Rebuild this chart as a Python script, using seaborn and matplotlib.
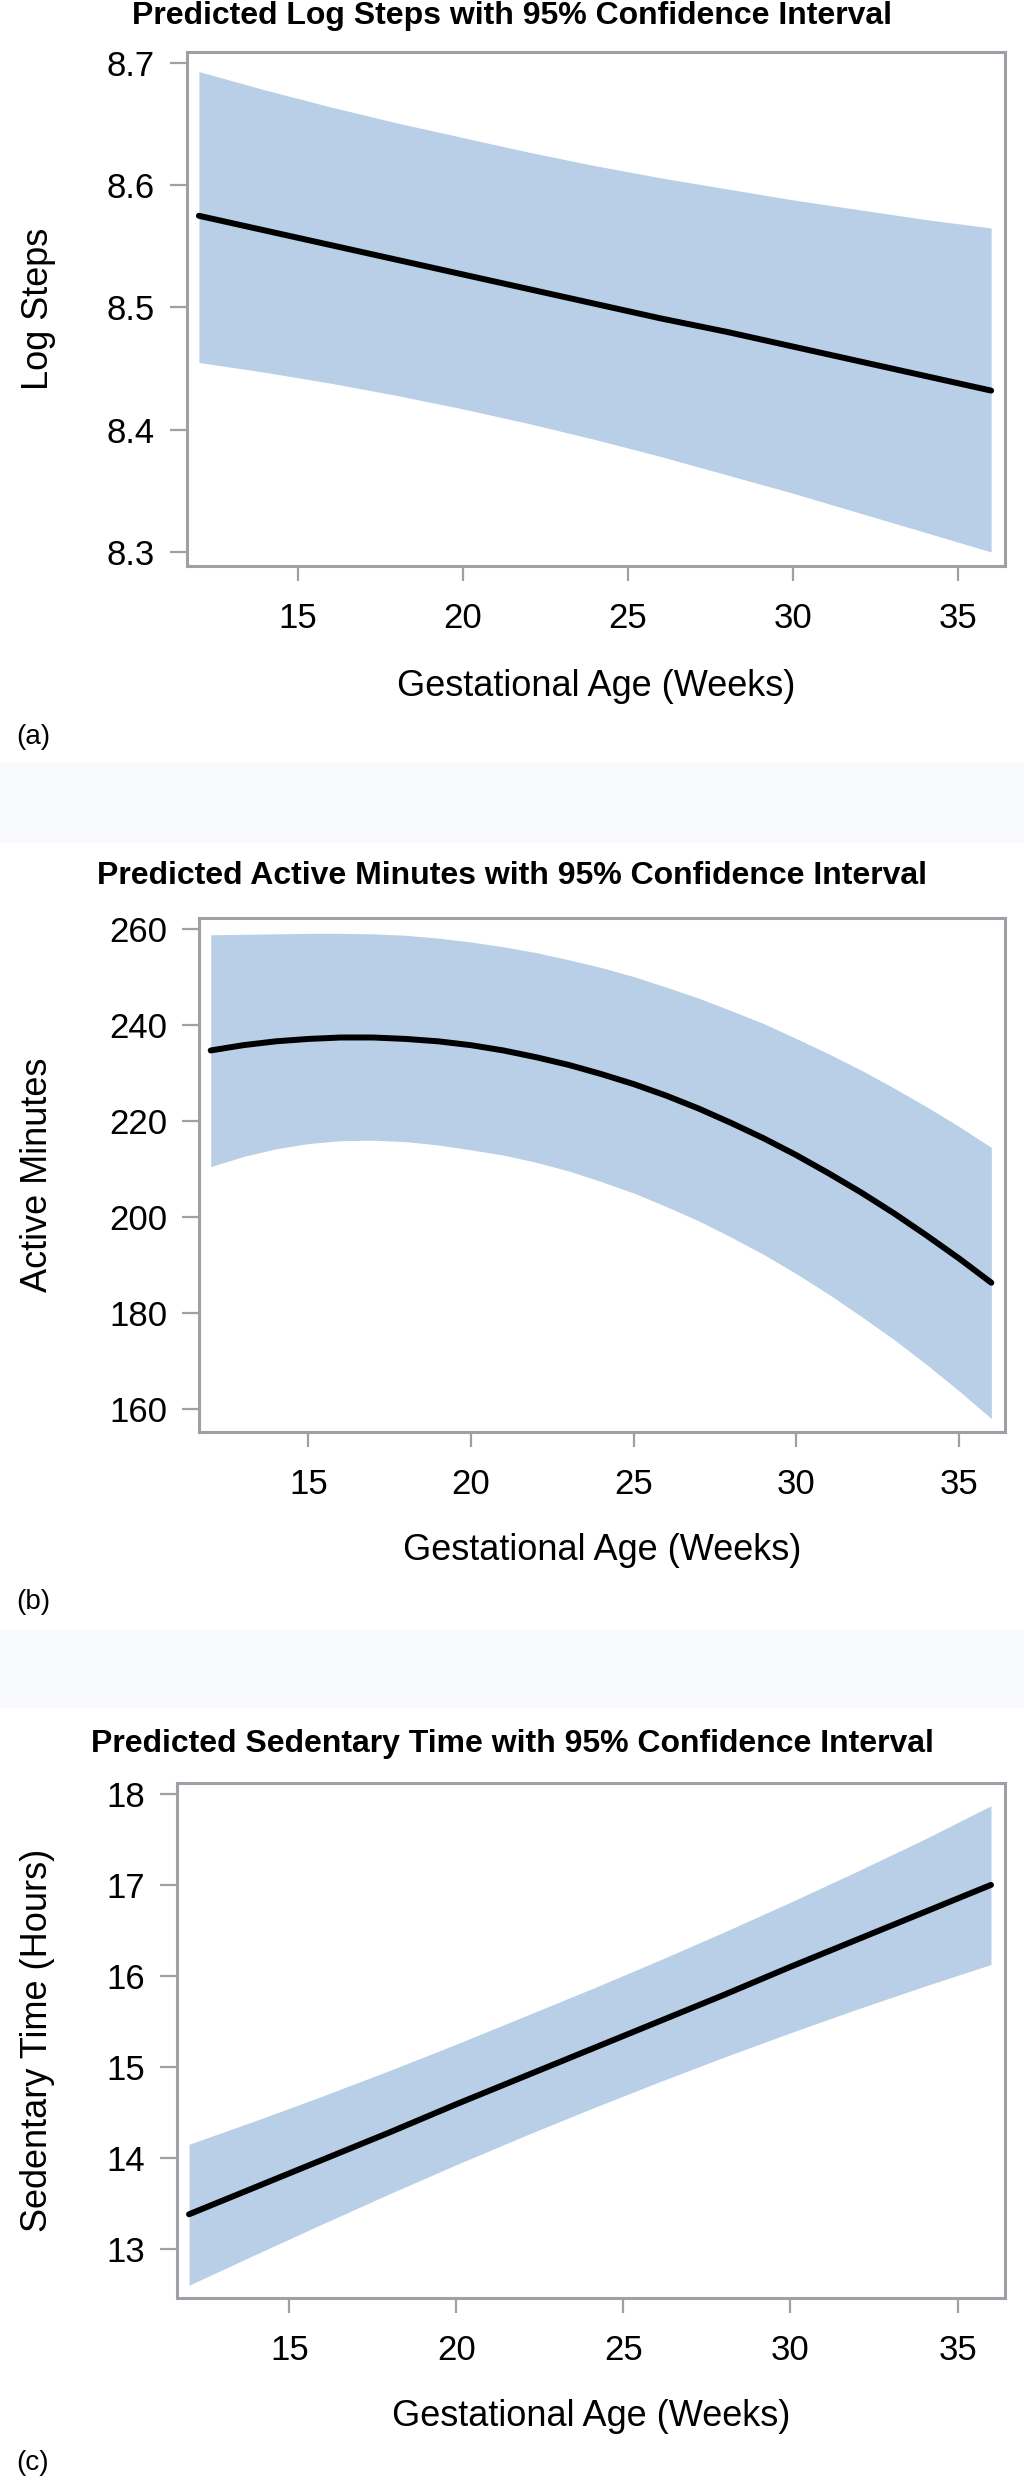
import matplotlib
matplotlib.use("Agg")
import matplotlib.pyplot as plt
import seaborn as sns
import pandas as pd
from matplotlib.patches import Rectangle

# ---------------- data ----------------
weeks_a = [12, 14, 16, 18, 20, 22, 24, 26, 28, 30, 32, 34, 36]
steps_pred = [8.575, 8.563, 8.551, 8.539, 8.527, 8.515, 8.503, 8.491, 8.480, 8.468, 8.456, 8.444, 8.432]
steps_upper = [8.693, 8.678, 8.664, 8.651, 8.639, 8.627, 8.616, 8.606, 8.597, 8.588, 8.580, 8.572, 8.565]
steps_lower = [8.455, 8.447, 8.438, 8.428, 8.417, 8.405, 8.392, 8.378, 8.363, 8.348, 8.332, 8.316, 8.300]

weeks_b = [12, 13, 14, 15, 16, 17, 18, 19, 20, 21, 22, 23, 24,
           25, 26, 27, 28, 29, 30, 31, 32, 33, 34, 35, 36]
active_pred = [234.7, 235.8, 236.6, 237.1, 237.4, 237.4, 237.1, 236.6, 235.8, 234.7, 233.3, 231.7, 229.8,
               227.7, 225.3, 222.6, 219.6, 216.4, 212.9, 209.1, 205.1, 200.8, 196.2, 191.4, 186.3]
active_upper = [258.8, 258.9, 259.0, 259.1, 259.1, 259.0, 258.7, 258.1, 257.3, 256.3, 255.1, 253.6, 252.0,
                250.1, 247.9, 245.6, 243.0, 240.3, 237.2, 234.0, 230.6, 226.9, 223.0, 218.9, 214.5]
active_lower = [210.5, 212.6, 214.2, 215.3, 215.9, 216.0, 215.7, 215.0, 214.0, 212.9, 211.4, 209.6, 207.4,
                205.0, 202.2, 199.2, 195.8, 192.2, 188.2, 183.9, 179.3, 174.5, 169.3, 163.8, 158.0]

weeks_c = [12, 14, 16, 18, 20, 22, 24, 26, 28, 30, 32, 34, 36]
sed_pred = [13.38, 13.68, 13.98, 14.28, 14.59, 14.89, 15.19, 15.49, 15.79, 16.10, 16.40, 16.70, 17.00]
sed_upper = [14.15, 14.41, 14.68, 14.96, 15.25, 15.55, 15.85, 16.16, 16.48, 16.81, 17.15, 17.50, 17.87]
sed_lower = [12.60, 12.94, 13.275, 13.605, 13.925, 14.235, 14.535, 14.825, 15.105, 15.375, 15.635, 15.885, 16.125]

titles = ["Predicted Log Steps with 95% Confidence Interval",
          "Predicted Active Minutes with 95% Confidence Interval",
          "Predicted Sedentary Time with 95% Confidence Interval"]
ylabels = ["Log Steps", "Active Minutes", "Sedentary Time (Hours)"]
xlabel = "Gestational Age (Weeks)"
panel_tags = ["(a)", "(b)", "(c)"]
x_ticks = [15, 20, 25, 30, 35]
y_ticks_steps = [8.3, 8.4, 8.5, 8.6, 8.7]
y_ticks_active = [160, 180, 200, 220, 240, 260]
y_ticks_sed = [13, 14, 15, 16, 17, 18]

# ---------------- style ----------------
sns.set_theme(style="white")
plt.rcParams["font.family"] = ["Liberation Sans", "DejaVu Sans"]

W, H = 1024, 2481
fig = plt.figure(figsize=(W / 100, H / 100), dpi=100)
fig.patch.set_facecolor("white")

FRAME = "#9DA1A5"
BAND = "#B9CFE7"

def px_rect(left, top, right, bottom):
    return [left / W, 1 - bottom / H, (right - left) / W, (bottom - top) / H]

panels = [
    dict(rect=px_rect(187, 52, 1005, 566), x=weeks_a, pred=steps_pred, up=steps_upper, lo=steps_lower,
         yticks=y_ticks_steps, ylim=(8.2885, 8.709), fmt="{:.1f}", title_y=16,
         xlab_y=687, tag_y=737),
    dict(rect=px_rect(199, 918, 1005, 1432), x=weeks_b, pred=active_pred, up=active_upper, lo=active_lower,
         yticks=y_ticks_active, ylim=(155.2, 262.3), fmt="{:.0f}", title_y=876,
         xlab_y=1550, tag_y=1602),
    dict(rect=px_rect(177, 1783, 1005, 2298), x=weeks_c, pred=sed_pred, up=sed_upper, lo=sed_lower,
         yticks=y_ticks_sed, ylim=(12.46, 18.12), fmt="{:.0f}", title_y=1744,
         xlab_y=2417, tag_y=2463),
]

# light separator bands between panels
for top, bot in [(763, 843), (1630, 1708)]:
    fig.patches.append(Rectangle((0, 1 - bot / H), 1, (bot - top) / H,
                                 transform=fig.transFigure, facecolor="#F7F9FD",
                                 edgecolor="none", zorder=0))

for i, p in enumerate(panels):
    ax = fig.add_axes(p["rect"])
    df = pd.DataFrame({"week": p["x"], "pred": p["pred"], "upper": p["up"], "lower": p["lo"]})
    ax.fill_between(df["week"], df["lower"], df["upper"], color=BAND, linewidth=0, zorder=1)
    sns.lineplot(data=df, x="week", y="pred", ax=ax, color="black", linewidth=4.3, zorder=3)
    ax.set_xlim(11.64, 36.42)
    ax.set_ylim(*p["ylim"])
    ax.set_xticks(x_ticks)
    ax.set_xticklabels([str(t) for t in x_ticks])
    ax.set_yticks(p["yticks"])
    ax.set_yticklabels([p["fmt"].format(t) for t in p["yticks"]])
    for s in ax.spines.values():
        s.set_visible(True)
        s.set_color(FRAME)
        s.set_linewidth(2.2)
    ax.tick_params(axis="x", direction="out", length=11, width=1.6, color=FRAME,
                   labelsize=25, pad=15, bottom=True, top=False, labelcolor="black")
    ax.tick_params(axis="y", direction="out", length=12, width=1.6, color=FRAME,
                   labelsize=25, pad=11, left=True, right=False, labelcolor="black")
    ax.set_xlabel(xlabel, fontsize=26, color="black")
    ax.set_ylabel(ylabels[i], fontsize=26, color="black")
    left_px = p["rect"][0] * W
    bottom_px = (1 - p["rect"][1]) * H
    h_px = p["rect"][3] * H
    w_px = p["rect"][2] * W
    ax.xaxis.set_label_coords(0.5, -(p["xlab_y"] - bottom_px) / h_px)
    ax.xaxis.label.set_va("center")
    ax.yaxis.set_label_coords(-(left_px - 38) / w_px, 0.5)
    ax.yaxis.label.set_va("center")
    ax.grid(False)
    ax.set_facecolor("white")
    fig.text(0.5, 1 - p["title_y"] / H, titles[i], ha="center", va="center",
             fontsize=23, fontweight="bold", color="black")
    fig.text(16 / W, 1 - p["tag_y"] / H, panel_tags[i], ha="left", va="center",
             fontsize=20, color="black")

fig.savefig("out.png", dpi=100, facecolor="white")
